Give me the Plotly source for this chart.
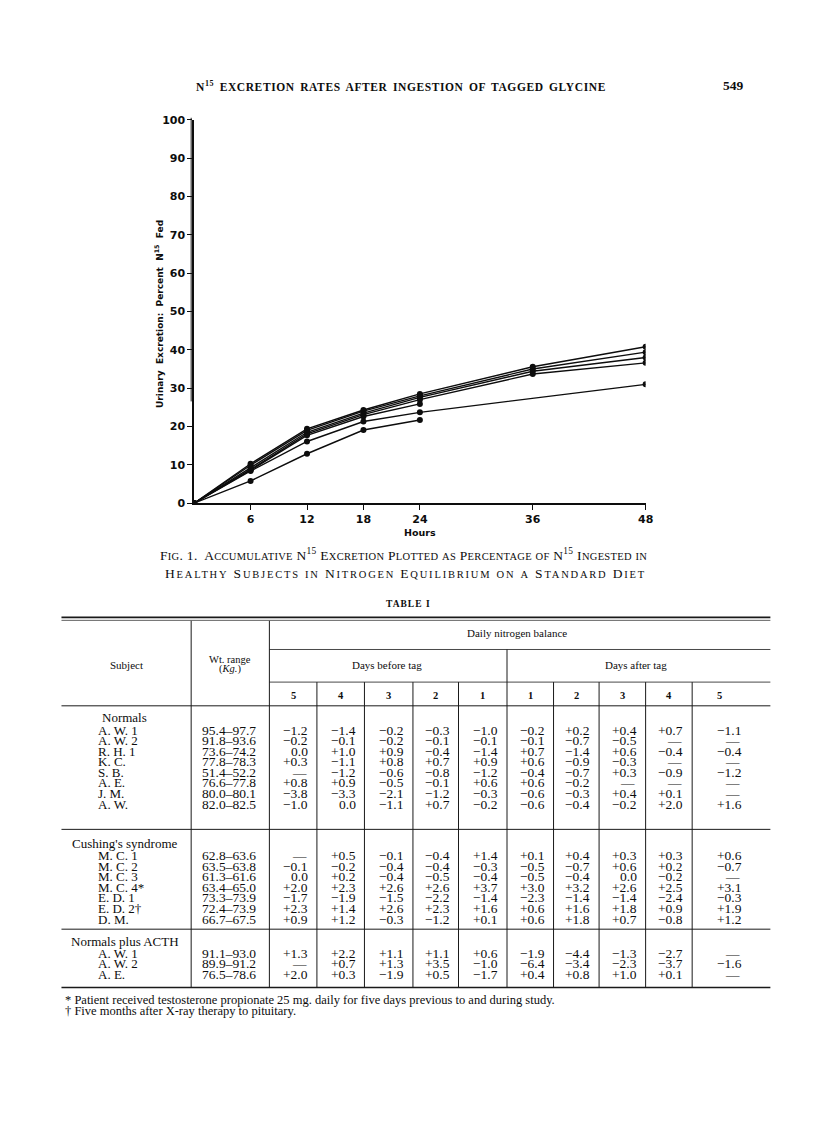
import plotly.graph_objects as go

W, H = 816, 1121
OFF = 8                    # default <body> margin of the written page
FW, FH = W - OFF, H - OFF  # figure size

# ---------------- chart data ----------------
hours = [0, 6, 12, 18, 24, 36, 48]
subj_a = [0, 10.3, 19.4, 24.3, 28.5, 35.6, 40.8]
subj_b = [0, 9.9, 19.0, 24.0, 28.0, 35.0, 39.4]
subj_c = [0, 9.3, 18.5, 23.5, 27.6, 34.4, 38.0]
subj_d = [0, 8.8, 18.1, 23.1, 27.0, 33.7, 36.6]
subj_e = [0, 8.6, 17.7, 22.6, 25.9, None, None]
subj_f = [0, 8.4, 16.1, 21.3, 23.7, None, 31.0]
subj_g = [0, 5.8, 12.9, 19.1, 21.7, None, None]
x_ticks = [6, 12, 18, 24, 36, 48]
y_ticks = [0, 10, 20, 30, 40, 50, 60, 70, 80, 90, 100]

# ---------------- table data ----------------
group_titles = ["Normals", "Cushing's syndrome", "Normals plus ACTH"]
day_headers = ["5", "4", "3", "2", "1", "1", "2", "3", "4", "5"]

normals_names = ["A. W. 1", "A. W. 2", "R. H. 1", "K. C.", "S. B.", "A. E.", "J. M.", "A. W."]
normals_wt = ["95.4–97.7", "91.8–93.6", "73.6–74.2", "77.8–78.3", "51.4–52.2",
              "76.6–77.8", "80.0–80.1", "82.0–82.5"]
normals_vals = [
    [-1.2, -1.4, -0.2, -0.3, -1.0, -0.2, 0.2, 0.4, 0.7, -1.1],
    [-0.2, -0.1, -0.2, -0.1, -0.1, -0.1, -0.7, -0.5, None, None],
    [0.0, 1.0, 0.9, -0.4, -1.4, 0.7, -1.4, 0.6, -0.4, -0.4],
    [0.3, -1.1, 0.8, 0.7, 0.9, 0.6, -0.9, -0.3, None, None],
    [None, -1.2, -0.6, -0.8, -1.2, -0.4, -0.7, 0.3, -0.9, -1.2],
    [0.8, 0.9, -0.5, -0.1, 0.6, 0.6, -0.2, None, None, None],
    [-3.8, -3.3, -2.1, -1.2, -0.3, -0.6, -0.3, 0.4, 0.1, None],
    [-1.0, 0.0, -1.1, 0.7, -0.2, -0.6, -0.4, -0.2, 2.0, 1.6],
]

cushing_names = ["M. C. 1", "M. C. 2", "M. C. 3", "M. C. 4*", "E. D. 1", "E. D. 2†", "D. M."]
cushing_wt = ["62.8–63.6", "63.5–63.8", "61.3–61.6", "63.4–65.0", "73.3–73.9",
              "72.4–73.9", "66.7–67.5"]
cushing_vals = [
    [None, 0.5, -0.1, -0.4, 1.4, 0.1, 0.4, 0.3, 0.3, 0.6],
    [-0.1, -0.2, -0.4, -0.4, -0.3, -0.5, -0.7, 0.6, 0.2, -0.7],
    [0.0, 0.2, -0.4, -0.5, -0.4, -0.5, -0.4, 0.0, -0.2, None],
    [2.0, 2.3, 2.6, 2.6, 3.7, 3.0, 3.2, 2.6, 2.5, 3.1],
    [-1.7, -1.9, -1.5, -2.2, -1.4, -2.3, -1.4, -1.4, -2.4, -0.3],
    [2.3, 1.4, 2.6, 2.3, 1.6, 0.6, 1.6, 1.8, 0.9, 1.9],
    [0.9, 1.2, -0.3, -1.2, 0.1, 0.6, 1.8, 0.7, -0.8, 1.2],
]

acth_names = ["A. W. 1", "A. W. 2", "A. E."]
acth_wt = ["91.1–93.0", "89.9–91.2", "76.5–78.6"]
acth_vals = [
    [1.3, 2.2, 1.1, 1.1, 0.6, -1.9, -4.4, -1.3, -2.7, None],
    [None, 0.7, 1.3, 3.5, -1.0, -6.4, -3.4, -2.3, -3.7, -1.6],
    [2.0, 0.3, -1.9, 0.5, -1.7, 0.4, 0.8, 1.0, 0.1, None],
]

footnotes = [
    "* Patient received testosterone propionate 25 mg. daily for five days previous to and during study.",
    "† Five months after X-ray therapy to pituitary.",
]

# ---------------- layout constants (page pixels) ----------------
CX0, CX1 = 196, 652       # chart x-axis extent (0 .. 48 h)
CY0, CY1 = 503, 115       # chart y-axis extent (0 .. 100 %)
SERIF = "Liberation Serif"
SANS = "DejaVu Sans"
INK = "#0d0d0d"

fig = go.Figure()

series = [subj_a, subj_b, subj_c, subj_d, subj_e, subj_f, subj_g]
for s in series:
    fig.add_trace(go.Scatter(
        x=hours, y=s, mode="lines+markers", connectgaps=True,
        line=dict(color=INK, width=1.4),
        marker=dict(color=INK, size=6),
        showlegend=False, hoverinfo="skip",
        xaxis="x", yaxis="y",
    ))

# invisible page-space axes for the text/table (page-pixel coordinates)
fig.add_trace(go.Scatter(x=[OFF + 1], y=[OFF + 1], mode="markers", marker=dict(opacity=0),
                         xaxis="x2", yaxis="y2", showlegend=False, hoverinfo="skip"))

tickfont = dict(family=SANS, size=11, color=INK, weight="bold")
fig.update_layout(
    width=FW, height=FH,
    margin=dict(l=0, r=0, t=0, b=0),
    paper_bgcolor="white", plot_bgcolor="rgba(0,0,0,0)",
    xaxis=dict(domain=[(CX0 - OFF) / FW, (CX1 - OFF) / FW], range=[0, 48], tickvals=x_ticks,
               showline=True, linecolor=INK, linewidth=1.6,
               ticks="outside", ticklen=5, tickwidth=1.2, tickcolor=INK,
               showgrid=False, zeroline=False, tickfont=tickfont, anchor="y"),
    yaxis=dict(domain=[1 - (CY0 - OFF) / FH, 1 - (CY1 - OFF) / FH], range=[0, 100],
               tickvals=y_ticks,
               showline=True, linecolor=INK, linewidth=1.6,
               ticks="outside", ticklen=5, tickwidth=1.2, tickcolor=INK,
               showgrid=False, zeroline=False, tickfont=tickfont, anchor="x"),
    xaxis2=dict(domain=[0, 1], range=[OFF, W], visible=False, anchor="y2"),
    yaxis2=dict(domain=[0, 1], range=[H, OFF], visible=False, anchor="x2"),
)

ann = []
shapes = []


def txt(x, y, text, size, family=SERIF, xanchor="center", weight="normal",
        angle=0, color=INK):
    ann.append(dict(x=x, y=y, xref="x2", yref="y2", text=text, showarrow=False,
                    xanchor=xanchor, yanchor="middle", textangle=angle,
                    font=dict(family=family, size=size, color=color, weight=weight)))


def hline(y, x0, x1, w=1.0):
    shapes.append(dict(type="line", xref="x2", yref="y2", x0=x0, x1=x1, y0=y, y1=y,
                       line=dict(color="#1a1a1a", width=w)))


def vline(x, y0, y1, w=1.0):
    shapes.append(dict(type="line", xref="x2", yref="y2", x0=x, x1=x, y0=y0, y1=y1,
                       line=dict(color="#1a1a1a", width=w)))


def smallcaps(s, small):
    out, run = "", ""
    for ch in s:
        if ch.islower():
            run += ch.upper()
        else:
            if run:
                out += f'<span style="font-size:{small}px">{run}</span>'
                run = ""
            out += ch
    if run:
        out += f'<span style="font-size:{small}px">{run}</span>'
    return out


def spaced(s, ls, ws=0):
    return f'<span style="letter-spacing:{ls}px;word-spacing:{ws}px">{s}</span>'


# page header
txt(405, 81, spaced("N<sup>15</sup> EXCRETION RATES AFTER INGESTION OF TAGGED GLYCINE", 0.6, 2),
    11.5, weight="bold")
txt(741, 80, "549", 13.5, weight="bold")

# second line of the y axis (double rule in the original)
vline(193, 113, 400, 1.0)

# axis titles
NB = "\u00a0"
txt(161, 311, f"Urinary{NB}{NB}Excretion:{NB}{NB}Percent{NB}{NB}N<sup>15</sup>{NB}{NB}Fed", 9,
    family=SANS, weight="bold", angle=-90)
txt(424, 533, "Hours", 9.5, family=SANS, weight="bold")

# caption
cap1 = (smallcaps("Fig. 1.  Accumulative N", 10.5) + "<sup>15</sup>" +
        smallcaps(" Excretion Plotted as Percentage of N", 10.5) + "<sup>15</sup>" +
        smallcaps(" Ingested in", 10.5))
cap2 = smallcaps("Healthy Subjects in Nitrogen Equilibrium on a Standard Diet", 10.5)
txt(407, 555, spaced(cap1, 0.3), 13.5)
txt(409, 574, spaced(cap2, 1.8), 13.5)
txt(412, 605, spaced("TABLE I", 1.0), 9.5, weight="bold")

# ---------------- table ----------------
TL, TR, TEND = 62, 760, 778
C_SUBJ, C_WT = 193, 272
col_edges = [272, 320, 368, 417, 463, 512, 559, 605, 652, 699, TR]
Y_TOP, Y_DAILY, Y_DAYS, Y_NUMS, Y_BOTTOM = 620, 651, 684, 708, 993
FS_NAME = 13
FS_VAL = 13.5

hline(Y_TOP - 1.5, TL, TEND, 1.6)
hline(Y_TOP + 1.5, TL, TEND, 0.7)
hline(Y_DAILY, C_WT, TEND, 0.8)
hline(Y_DAYS, C_WT, TEND, 0.8)
hline(Y_NUMS, TL, TEND, 1.0)
vline(C_SUBJ, Y_TOP + 2, Y_BOTTOM, 1.0)
vline(C_WT, Y_TOP + 2, Y_BOTTOM, 1.0)
vline(col_edges[5], Y_DAILY, Y_BOTTOM, 1.0)
for i, e in enumerate(col_edges[1:-1]):
    if i != 4:
        vline(e, Y_DAYS, Y_BOTTOM, 1.0)

txt(522, 634, "Daily nitrogen balance", 11)
txt(128, 667, "Subject", 11)
txt(232, 661, "Wt. range", 10.5)
txt(232, 671, "(<i>Kg.</i>)", 10.5)
txt(391, 667, "Days before tag", 11)
txt(642, 667, "Days after tag", 11)
for i, d in enumerate(day_headers):
    cx = (col_edges[i] + col_edges[i + 1]) / 2 if i < 9 else 727
    txt(cx, 698, d, 10.5, weight="bold")


def fmt(v):
    if v is None:
        return "—"
    if v == 0:
        return "0.0"
    return ("+" if v > 0 else "−") + f"{abs(v):.1f}"


PITCH = 10.7
sections = [
    (group_titles[0], normals_names, normals_wt, normals_vals, 720, None),
    (group_titles[1], cushing_names, cushing_wt, cushing_vals, 847, 833),
    (group_titles[2], acth_names, acth_wt, acth_vals, 946, 934),
]
for title, names, wts, vals, hy, rule_y in sections:
    if rule_y is not None:
        hline(rule_y, TL, TEND, 1.0)
    txt(126, hy, title, FS_NAME)
    for r, (nm, wt, row) in enumerate(zip(names, wts, vals)):
        y = hy + 12.5 + r * PITCH
        txt(97, y, nm, FS_NAME, xanchor="left")
        txt(231, y, wt, FS_VAL)
        for c, v in enumerate(row):
            s = fmt(v)
            right = col_edges[c + 1] - (7 if c < 9 else 9)
            if v is None:
                txt(right - 11, y, s, FS_VAL)
            else:
                txt(right, y, s, FS_VAL, xanchor="right")

hline(Y_BOTTOM, TL, TEND, 1.6)
txt(64, 1006, footnotes[0], 12.5, xanchor="left")
txt(64, 1017, footnotes[1], 12.5, xanchor="left")

fig.update_layout(annotations=ann, shapes=shapes)
fig.write_html("out.html")
